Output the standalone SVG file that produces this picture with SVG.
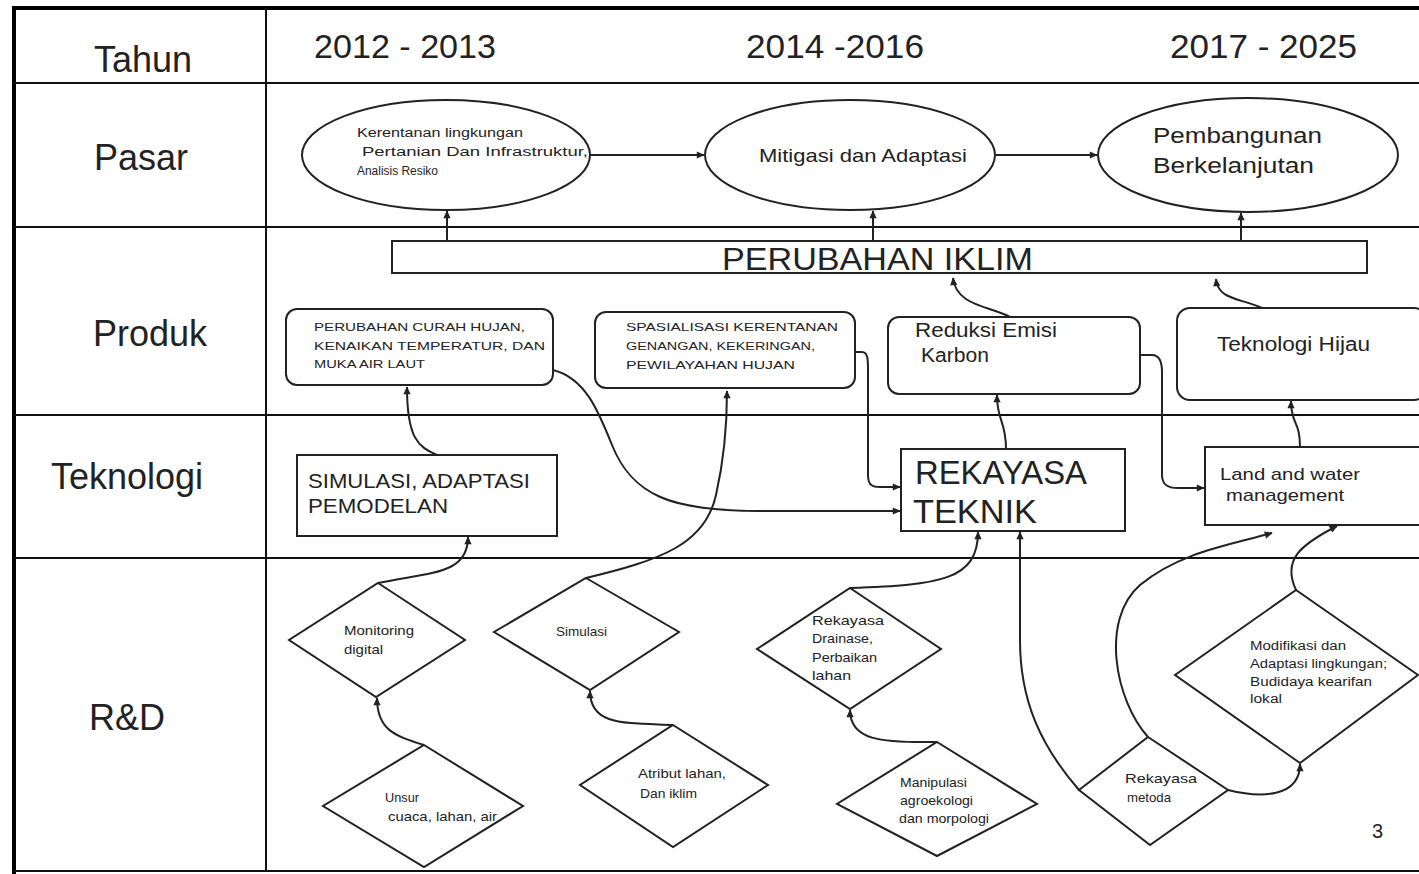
<svg xmlns="http://www.w3.org/2000/svg" width="1419" height="874" viewBox="0 0 1419 874">
  <style>
    .grid { stroke: #111; stroke-width: 2; fill: none; }
    .outer { stroke: #000; stroke-width: 4; fill: none; }
    .shape { stroke: #222; stroke-width: 2; fill: #fff; }
    .conn { stroke: #222; stroke-width: 2; fill: none; marker-end: url(#ah); }
    .row { font-family: "Liberation Sans", Arial, sans-serif; font-size: 36px; fill: #222; }
    .year { font-family: "Liberation Sans", Arial, sans-serif; font-size: 34px; fill: #222; }
    .t { font-family: "Liberation Sans", Arial, sans-serif; fill: #222; }
  </style>
  <defs>
    <marker id="ah" viewBox="0 0 10 10" refX="9" refY="5" markerWidth="9" markerHeight="8" orient="auto" markerUnits="userSpaceOnUse">
      <path d="M0,0.5 L10,5 L0,9.5 z" fill="#222"/>
    </marker>
  </defs>
  <rect width="1419" height="874" fill="#fff"/>

  <!-- table grid -->
  <g id="table">
    <line class="outer" x1="14" y1="8" x2="1419" y2="8"/>
    <line class="outer" x1="14" y1="6" x2="14" y2="874"/>
    <line class="grid" x1="266" y1="8" x2="266" y2="872"/>
    <line class="grid" x1="14" y1="83" x2="1419" y2="83"/>
    <line class="grid" x1="14" y1="227" x2="1419" y2="227"/>
    <line class="grid" x1="14" y1="415" x2="1419" y2="415"/>
    <line class="grid" x1="14" y1="558" x2="1419" y2="558"/>
    <line class="grid" x1="14" y1="871" x2="1419" y2="871"/>
    <text class="row" x="143" y="72" text-anchor="middle" font-size="34">Tahun</text>
    <text class="row" x="141" y="170" text-anchor="middle">Pasar</text>
    <text class="row" x="150" y="346" text-anchor="middle">Produk</text>
    <text class="row" x="127" y="489" text-anchor="middle">Teknologi</text>
    <text class="row" x="127" y="730" text-anchor="middle">R&amp;D</text>
    <text class="year" x="314" y="58" textLength="182" lengthAdjust="spacingAndGlyphs">2012 - 2013</text>
    <text class="year" x="746" y="58" textLength="178" lengthAdjust="spacingAndGlyphs">2014 -2016</text>
    <text class="year" x="1170" y="58" textLength="187" lengthAdjust="spacingAndGlyphs">2017 - 2025</text>
  </g>

  <!-- Pasar -->
  <g id="pasar-1">
    <ellipse class="shape" cx="446" cy="155" rx="144" ry="55"/>
    <text class="t" font-size="12" x="357" y="137" textLength="166" lengthAdjust="spacingAndGlyphs">Kerentanan lingkungan</text>
    <text class="t" font-size="12" x="362" y="156" textLength="226" lengthAdjust="spacingAndGlyphs">Pertanian Dan Infrastruktur,</text>
    <text class="t" font-size="12" x="357" y="175" textLength="81" lengthAdjust="spacingAndGlyphs">Analisis Resiko</text>
  </g>
  <g id="pasar-2">
    <ellipse class="shape" cx="850" cy="155" rx="145" ry="55"/>
    <text class="t" font-size="19" x="759" y="162" textLength="208" lengthAdjust="spacingAndGlyphs">Mitigasi dan Adaptasi</text>
  </g>
  <g id="pasar-3">
    <ellipse class="shape" cx="1248" cy="155" rx="150" ry="57"/>
    <text class="t" font-size="22" x="1153" y="143" textLength="169" lengthAdjust="spacingAndGlyphs">Pembangunan</text>
    <text class="t" font-size="22" x="1153" y="173" textLength="161" lengthAdjust="spacingAndGlyphs">Berkelanjutan</text>
  </g>

  <!-- Produk -->
  <g id="perubahan-iklim">
    <rect class="shape" x="392" y="241" width="975" height="32"/>
    <text class="t" font-size="32" x="722" y="270" textLength="311" lengthAdjust="spacingAndGlyphs">PERUBAHAN IKLIM</text>
  </g>
  <g id="produk-1">
    <rect class="shape" x="286" y="309" width="267" height="76" rx="11"/>
    <text class="t" font-size="11" x="314" y="331" textLength="211" lengthAdjust="spacingAndGlyphs">PERUBAHAN  CURAH HUJAN,</text>
    <text class="t" font-size="11" x="314" y="350" textLength="231" lengthAdjust="spacingAndGlyphs">KENAIKAN  TEMPERATUR,  DAN</text>
    <text class="t" font-size="11" x="314" y="368" textLength="111" lengthAdjust="spacingAndGlyphs">MUKA AIR LAUT</text>
  </g>
  <g id="produk-2">
    <rect class="shape" x="595" y="312" width="260" height="76" rx="11"/>
    <text class="t" font-size="11" x="626" y="331" textLength="212" lengthAdjust="spacingAndGlyphs">SPASIALISASI  KERENTANAN</text>
    <text class="t" font-size="11" x="626" y="350" textLength="189" lengthAdjust="spacingAndGlyphs">GENANGAN, KEKERINGAN,</text>
    <text class="t" font-size="11" x="626" y="369" textLength="169" lengthAdjust="spacingAndGlyphs">PEWILAYAHAN  HUJAN</text>
  </g>
  <g id="produk-3">
    <rect class="shape" x="888" y="317" width="252" height="77" rx="11"/>
    <text class="t" font-size="20" x="915" y="337" textLength="142" lengthAdjust="spacingAndGlyphs">Reduksi Emisi</text>
    <text class="t" font-size="20" x="921" y="362" textLength="68" lengthAdjust="spacingAndGlyphs">Karbon</text>
  </g>
  <g id="produk-4">
    <rect class="shape" x="1177" y="308" width="250" height="92" rx="13"/>
    <text class="t" font-size="20" x="1217" y="351" textLength="153" lengthAdjust="spacingAndGlyphs">Teknologi Hijau</text>
  </g>

  <!-- Teknologi -->
  <g id="tek-1">
    <rect class="shape" x="297" y="455" width="260" height="81"/>
    <text class="t" font-size="21" x="308" y="488" textLength="222" lengthAdjust="spacingAndGlyphs">SIMULASI, ADAPTASI</text>
    <text class="t" font-size="21" x="308" y="513" textLength="140" lengthAdjust="spacingAndGlyphs">PEMODELAN</text>
  </g>
  <g id="tek-2">
    <rect class="shape" x="901" y="449" width="224" height="82"/>
    <text class="t" font-size="33" x="915" y="484" textLength="172" lengthAdjust="spacingAndGlyphs">REKAYASA</text>
    <text class="t" font-size="33" x="913" y="523" textLength="124" lengthAdjust="spacingAndGlyphs">TEKNIK</text>
  </g>
  <g id="tek-3">
    <rect class="shape" x="1205" y="447" width="220" height="78"/>
    <text class="t" font-size="17" x="1220" y="480" textLength="140" lengthAdjust="spacingAndGlyphs">Land and water</text>
    <text class="t" font-size="17" x="1226" y="501" textLength="118" lengthAdjust="spacingAndGlyphs">management</text>
  </g>

  <!-- R&D -->
  <g id="rd-monitoring">
    <polygon class="shape" points="378,583 465,640 376,697 289,640"/>
    <text class="t" font-size="13" x="344" y="635" textLength="70" lengthAdjust="spacingAndGlyphs">Monitoring</text>
    <text class="t" font-size="13" x="344" y="654" textLength="39" lengthAdjust="spacingAndGlyphs">digital</text>
  </g>
  <g id="rd-unsur">
    <polygon class="shape" points="424,745 523,806 424,867 323,806"/>
    <text class="t" font-size="13" x="385" y="802" textLength="34" lengthAdjust="spacingAndGlyphs">Unsur</text>
    <text class="t" font-size="13" x="388" y="821" textLength="109" lengthAdjust="spacingAndGlyphs">cuaca, lahan, air</text>
  </g>
  <g id="rd-simulasi">
    <polygon class="shape" points="586,578 679,632 590,690 494,632"/>
    <text class="t" font-size="13" x="556" y="636" textLength="51" lengthAdjust="spacingAndGlyphs">Simulasi</text>
  </g>
  <g id="rd-atribut">
    <polygon class="shape" points="673,725 768,785 673,847 580,785"/>
    <text class="t" font-size="13" x="638" y="778" textLength="88" lengthAdjust="spacingAndGlyphs">Atribut lahan,</text>
    <text class="t" font-size="13" x="640" y="798" textLength="57" lengthAdjust="spacingAndGlyphs">Dan iklim</text>
  </g>
  <g id="rd-drainase">
    <polygon class="shape" points="850,588 941,649 850,709 757,649"/>
    <text class="t" font-size="13" x="812" y="625" textLength="72" lengthAdjust="spacingAndGlyphs">Rekayasa</text>
    <text class="t" font-size="13" x="812" y="643" textLength="61" lengthAdjust="spacingAndGlyphs">Drainase,</text>
    <text class="t" font-size="13" x="812" y="662" textLength="65" lengthAdjust="spacingAndGlyphs">Perbaikan</text>
    <text class="t" font-size="13" x="812" y="680" textLength="39" lengthAdjust="spacingAndGlyphs">lahan</text>
  </g>
  <g id="rd-manipulasi">
    <polygon class="shape" points="937,742 1037,804 937,856 837,804"/>
    <text class="t" font-size="13" x="900" y="787" textLength="67" lengthAdjust="spacingAndGlyphs">Manipulasi</text>
    <text class="t" font-size="13" x="900" y="805" textLength="73" lengthAdjust="spacingAndGlyphs">agroekologi</text>
    <text class="t" font-size="13" x="899" y="823" textLength="90" lengthAdjust="spacingAndGlyphs">dan morpologi</text>
  </g>
  <g id="rd-metoda">
    <polygon class="shape" points="1148,737 1228,790 1150,845 1079,790"/>
    <text class="t" font-size="13" x="1125" y="783" textLength="72" lengthAdjust="spacingAndGlyphs">Rekayasa</text>
    <text class="t" font-size="13" x="1127" y="802" textLength="44" lengthAdjust="spacingAndGlyphs">metoda</text>
  </g>
  <g id="rd-modifikasi">
    <polygon class="shape" points="1296,590 1418,675 1300,763 1175,675"/>
    <text class="t" font-size="12" x="1250" y="650" textLength="96" lengthAdjust="spacingAndGlyphs">Modifikasi dan</text>
    <text class="t" font-size="12" x="1250" y="668" textLength="137" lengthAdjust="spacingAndGlyphs">Adaptasi lingkungan;</text>
    <text class="t" font-size="12" x="1250" y="686" textLength="122" lengthAdjust="spacingAndGlyphs">Budidaya kearifan</text>
    <text class="t" font-size="12" x="1250" y="703" textLength="32" lengthAdjust="spacingAndGlyphs">lokal</text>
  </g>

  <text class="t" font-size="20" x="1372" y="838">3</text>

  <!-- connectors -->
  <g id="connectors">
    <path class="conn" d="M590,155 H704"/>
    <path class="conn" d="M995,155 H1097"/>
    <path class="conn" d="M447,241 V211"/>
    <path class="conn" d="M873,241 V211"/>
    <path class="conn" d="M1241,241 V213"/>
    <path class="conn" d="M1010,317 C990,306 956,306 953,278"/>
    <path class="conn" d="M1262,308 C1240,298 1218,300 1216,279"/>
    <path class="conn" d="M437,455 C418,447 407,438 407,387"/>
    <path class="conn" d="M553,370 C585,378 598,410 612,445 C632,495 670,511 760,511 L900,511"/>
    <path class="conn" d="M855,352 H862 C868,352 868,360 868,370 V475 C868,485 872,487 880,487 H900"/>
    <path class="conn" d="M586,578 C660,560 705,545 716,495 C724,460 727,430 727,391"/>
    <path class="conn" d="M1006,449 C1006,420 997,422 997,395"/>
    <path class="conn" d="M1140,355 H1152 C1160,355 1162,362 1162,372 V475 C1162,485 1168,488 1178,488 H1204"/>
    <path class="conn" d="M1300,447 C1300,420 1291,425 1291,401"/>
    <path class="conn" d="M424,745 C395,736 377,730 377,698"/>
    <path class="conn" d="M378,583 C430,572 468,575 468,537"/>
    <path class="conn" d="M673,725 C625,723 590,726 590,691"/>
    <path class="conn" d="M937,742 C880,743 850,740 850,710"/>
    <path class="conn" d="M850,588 C940,585 978,580 978,532"/>
    <path class="conn" d="M1079,790 C1040,745 1020,700 1020,640 V532"/>
    <path class="conn" d="M1148,737 C1115,700 1100,620 1140,585 C1180,552 1230,545 1272,533"/>
    <path class="conn" d="M1228,790 C1260,798 1300,798 1300,764"/>
    <path class="conn" d="M1296,590 C1282,560 1300,545 1337,526"/>
  </g>
</svg>
